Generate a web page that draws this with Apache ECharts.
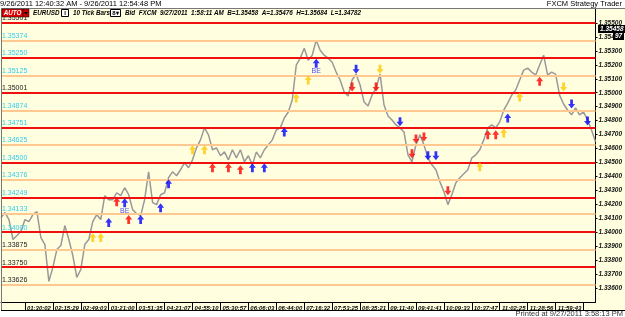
<!DOCTYPE html>
<html>
<head>
<meta charset="utf-8">
<script src="https://cdn.jsdelivr.net/npm/echarts@6/dist/echarts.min.js"></script>
<style>
  html, body { margin: 0; padding: 0; background: #fff; }
  #main { width: 625px; height: 317px; }
</style>
</head>
<body>
<div id="main"></div>
<script>
// EURUSD 10 tick bars
const price = [
  1.34105, 1.34141, 1.34091, 1.33948, 1.33976, 1.34005, 1.34091, 1.34076, 1.34126, 1.34148,
  1.33962, 1.33912, 1.33648, 1.33748, 1.33876, 1.33905, 1.34048, 1.33948, 1.33833, 1.33676,
  1.33733, 1.33912, 1.33948, 1.34076, 1.34126, 1.34091, 1.34262, 1.34233, 1.34233, 1.34283,
  1.34262, 1.34319, 1.34269, 1.34162, 1.34133, 1.34119, 1.34233, 1.34433, 1.34212, 1.34198,
  1.34269, 1.34283, 1.34391, 1.34433, 1.34405, 1.34448, 1.34498, 1.34462, 1.34519, 1.34605,
  1.34662, 1.34748, 1.34698, 1.34591, 1.34605, 1.34548, 1.34576, 1.34519, 1.34591, 1.34533,
  1.34591, 1.34505, 1.34548, 1.34483, 1.34576, 1.34533, 1.34591, 1.34626, 1.34662, 1.34733,
  1.34748, 1.34819, 1.34862, 1.34948, 1.35198, 1.35248, 1.35319, 1.35233, 1.35269, 1.35376,
  1.35305, 1.35269, 1.35248, 1.35219, 1.35148, 1.35091, 1.35005, 1.34976, 1.35091, 1.35133,
  1.35055, 1.34933, 1.34905, 1.34983, 1.35033, 1.35133, 1.34912, 1.34833, 1.34805, 1.34769,
  1.34748, 1.34719, 1.34555, 1.34505, 1.34626, 1.34698, 1.34626, 1.34533, 1.34483, 1.34448,
  1.34362, 1.34291, 1.34198, 1.34269, 1.34355, 1.34391, 1.34419, 1.34448, 1.34533, 1.34555,
  1.34591, 1.34662, 1.34748, 1.34769, 1.34748, 1.34791, 1.34876, 1.34926, 1.34983, 1.35019,
  1.35091, 1.35162, 1.35176, 1.35148, 1.35126, 1.35198, 1.35269, 1.35126, 1.35148, 1.35133,
  1.34983, 1.34919, 1.34876, 1.34841, 1.34891, 1.34841, 1.34862, 1.34805, 1.34733, 1.34648
];

const xLabels = ['01:30:02', '02:15:29', '02:49:03', '03:21:00', '03:51:35', '04:21:07', '04:55:10',
  '05:30:57', '06:06:03', '06:44:00', '07:16:32', '07:53:25', '08:35:21', '09:11:40', '09:41:41',
  '10:09:33', '10:37:47', '11:02:25', '11:28:56', '11:59:43'];

// horizontal levels (left labels)
const levels = [1.35501, 1.35374, 1.35250, 1.35125, 1.35001, 1.34874, 1.34751, 1.34625,
  1.34500, 1.34376, 1.34249, 1.34133, 1.34000, 1.33875, 1.33750, 1.33626];

// strategy signals [bar, price, text]
const yellowUp = [[23, 1.33962], [25, 1.33962], [48, 1.34591], [51, 1.34591], [74, 1.34962],
  [77, 1.35091], [120, 1.34469], [126, 1.34712], [130, 1.34969]];
const redUp = [[29, 1.34219], [32, 1.34091], [53, 1.34462], [57, 1.34462], [60, 1.34448],
  [122, 1.34698], [124, 1.34698], [135, 1.35083]];
const blueUp = [[27, 1.34069], [31, 1.34212, 'BE'], [35, 1.34091], [40, 1.34176], [42, 1.34348],
  [63, 1.34462], [66, 1.34462], [71, 1.34719], [79, 1.35212, 'BE'], [127, 1.34819]];
const redDown = [[88, 1.35041], [94, 1.35041], [103, 1.34562], [104, 1.34669], [106, 1.34683], [112, 1.34298]];
const blueDown = [[89, 1.35169], [100, 1.34791], [107, 1.34548], [109, 1.34548], [143, 1.34919], [147, 1.34798]];
const yellowDown = [[95, 1.35169], [141, 1.35041]];

const lastBid = '1.35458';

const cats = price.map((v, i) => String(i));
const labelStart = 10, labelStep = 7;
const darkLevels = ['1.35501', '1.35001', '1.33875', '1.33750', '1.33626'];

const FONT = 'Liberation Sans';
const HFONT = 'italic bold 6.3px ' + FONT;
const UP = 'path://M4,0L8,4.5L5.6,4.5L5.6,9L2.4,9L2.4,4.5L0,4.5Z';
const DOWN = 'path://M4,9L8,4.5L5.6,4.5L5.6,0L2.4,0L2.4,4.5L0,4.5Z';

function arrows(data, color, path) {
  return {
    type: 'scatter',
    data: data,
    symbol: path,
    symbolSize: [7, 9],
    z: 5,
    itemStyle: { color: color },
    label: {
      show: true,
      position: 'bottom',
      distance: 0,
      color: '#1a1aff',
      fontFamily: FONT,
      fontSize: 7,
      formatter: p => p.data[2] || ''
    },
    animation: false
  };
}

var chart = echarts.init(document.getElementById('main'));

var option = {
  backgroundColor: '#FFFFE0',
  animation: false,
  grid: { left: 1, right: 28, top: 9, bottom: 15 },
  xAxis: {
    type: 'category',
    data: cats,
    boundaryGap: false,
    axisLine: { show: true, lineStyle: { color: '#000', width: 1 } },
    axisTick: {
      show: true,
      length: 9,
      interval: i => i >= 6 && (i - 6) % labelStep === 0,
      lineStyle: { color: '#000' }
    },
    axisLabel: {
      interval: i => i >= labelStart && (i - labelStart) % labelStep === 0,
      formatter: (v, i) => xLabels[(i - labelStart) / labelStep] || '',
      margin: 3,
      padding: [0, 4, 0, 0],
      color: '#000',
      fontFamily: FONT,
      fontSize: 6,
      fontStyle: 'italic',
      fontWeight: 'bold'
    },
    splitLine: { show: false }
  },
  yAxis: {
    type: 'value',
    position: 'right',
    min: 1.335,
    max: 1.356,
    interval: 0.001,
    axisLine: { show: true, lineStyle: { color: '#000', width: 1 } },
    axisTick: { show: true, length: 2, lineStyle: { color: '#000' } },
    axisLabel: {
      showMinLabel: false,
      showMaxLabel: false,
      formatter: v => v.toFixed(5),
      margin: 3,
      color: '#111',
      fontFamily: FONT,
      fontSize: 6.5,
      fontStyle: 'italic',
      fontWeight: 'bold'
    },
    splitLine: { show: false }
  },
  series: [
    {
      // level lines behind the price
      type: 'line',
      data: [],
      z: 1,
      markLine: {
        silent: true,
        precision: 5,
        symbol: ['none', 'none'],
        animation: false,
        data: levels.map((v, i) => ({
          yAxis: v,
          lineStyle: {
            type: 'solid',
            color: i % 2 === 0 ? '#F01010' : '#FFC890',
            width: 2
          },
          label: {
            show: true,
            position: 'insideStartTop',
            distance: [1, 1],
            formatter: v.toFixed(5),
            color: darkLevels.indexOf(v.toFixed(5)) >= 0 ? '#222' : '#33CCEE',
            fontFamily: FONT,
            fontSize: 7
          }
        }))
      }
    },
    {
      type: 'line',
      data: price,
      symbol: 'none',
      z: 3,
      lineStyle: { color: '#999999', width: 1.5 },
      animation: false
    },
    arrows(yellowUp, '#FFC800', UP),
    arrows(redUp, '#FF0000', UP),
    arrows(blueUp, '#0000FF', UP),
    arrows(redDown, '#FF0000', DOWN),
    arrows(blueDown, '#0000FF', DOWN),
    arrows(yellowDown, '#FFC800', DOWN)
  ],
  graphic: [
    // white bands top and bottom
    { type: 'rect', shape: { x: 0, y: 0, width: 625, height: 8 }, style: { fill: '#fff' }, z: 50 },
    { type: 'rect', shape: { x: 0, y: 311, width: 625, height: 6 }, style: { fill: '#fff' }, z: 50 },
    { type: 'text', x: 0, y: 4, z: 60, style: { text: '9/26/2011 12:40:32 AM - 9/26/2011 12:54:48 PM', font: '7.5px ' + FONT, fill: '#000', verticalAlign: 'middle' } },
    { type: 'text', x: 622, y: 4, z: 60, style: { text: 'FXCM Strategy Trader', font: '7.5px ' + FONT, fill: '#000', align: 'right', verticalAlign: 'middle' } },
    { type: 'text', x: 623, y: 314, z: 60, style: { text: 'Printed at 9/27/2011 3:58:13 PM', font: '7.5px ' + FONT, fill: '#333', align: 'right', verticalAlign: 'middle' } },
    // frame
    { type: 'line', shape: { x1: 1.5, y1: 8, x2: 1.5, y2: 311 }, style: { stroke: '#777', lineWidth: 1 }, z: 60 },
    { type: 'line', shape: { x1: 1, y1: 8.5, x2: 625, y2: 8.5 }, style: { stroke: '#777', lineWidth: 1 }, z: 60 },
    { type: 'line', shape: { x1: 1, y1: 310.5, x2: 625, y2: 310.5 }, style: { stroke: '#000', lineWidth: 1 }, z: 60 },
    // header row
    { type: 'rect', shape: { x: 2, y: 9, width: 21, height: 8 }, style: { fill: '#E00000', stroke: '#000', lineWidth: 0.5 }, z: 60 },
    { type: 'text', x: 12.5, y: 13.2, z: 61, style: { text: 'AUTO', font: HFONT, fill: '#fff', align: 'center', verticalAlign: 'middle' } },
    { type: 'rect', shape: { x: 23, y: 9, width: 6, height: 8 }, style: { fill: '#D00000', stroke: '#000', lineWidth: 0.5 }, z: 60 },
    { type: 'polygon', shape: { points: [[24, 12], [28, 12], [26, 15]] }, style: { fill: '#000' }, z: 61 },
    { type: 'text', x: 33, y: 13.2, z: 60, style: { text: 'EURUSD', font: HFONT, fill: '#000', verticalAlign: 'middle' } },
    { type: 'rect', shape: { x: 61.5, y: 9.5, width: 7, height: 7 }, style: { fill: '#fff', stroke: '#000', lineWidth: 1 }, z: 60 },
    { type: 'text', x: 65, y: 13.2, z: 61, style: { text: 'I', font: 'bold 6px ' + FONT, fill: '#000', align: 'center', verticalAlign: 'middle' } },
    { type: 'text', x: 73, y: 13.2, z: 60, style: { text: '10 Tick Bars', font: HFONT, fill: '#000', verticalAlign: 'middle' } },
    { type: 'rect', shape: { x: 110.5, y: 9.5, width: 10, height: 7 }, style: { fill: '#fff', stroke: '#000', lineWidth: 1 }, z: 60 },
    { type: 'text', x: 115.5, y: 13.2, z: 61, style: { text: '8\u25BE', font: 'bold 6px ' + FONT, fill: '#000', align: 'center', verticalAlign: 'middle' } },
    { type: 'text', x: 125, y: 13.2, z: 60, style: { text: 'Bid  FXCM  9/27/2011  1:58:11 AM  B=1.35458  A=1.35476  H=1.35684  L=1.34782', font: HFONT, fill: '#000', verticalAlign: 'middle' } },
    // current bid marker on the price axis
    { type: 'rect', shape: { x: 598, y: 25, width: 27, height: 8 }, style: { fill: '#000' }, z: 60 },
    { type: 'text', x: 600, y: 29, z: 61, style: { text: lastBid, font: 'italic bold 6.5px ' + FONT, fill: '#fff', verticalAlign: 'middle' } },
    { type: 'rect', shape: { x: 613, y: 33, width: 11, height: 7 }, style: { fill: '#000' }, z: 60 },
    { type: 'text', x: 615, y: 36.5, z: 61, style: { text: '97', font: 'italic bold 6.5px ' + FONT, fill: '#fff', verticalAlign: 'middle' } }
  ]
};

chart.setOption(option);
</script>
</body>
</html>
